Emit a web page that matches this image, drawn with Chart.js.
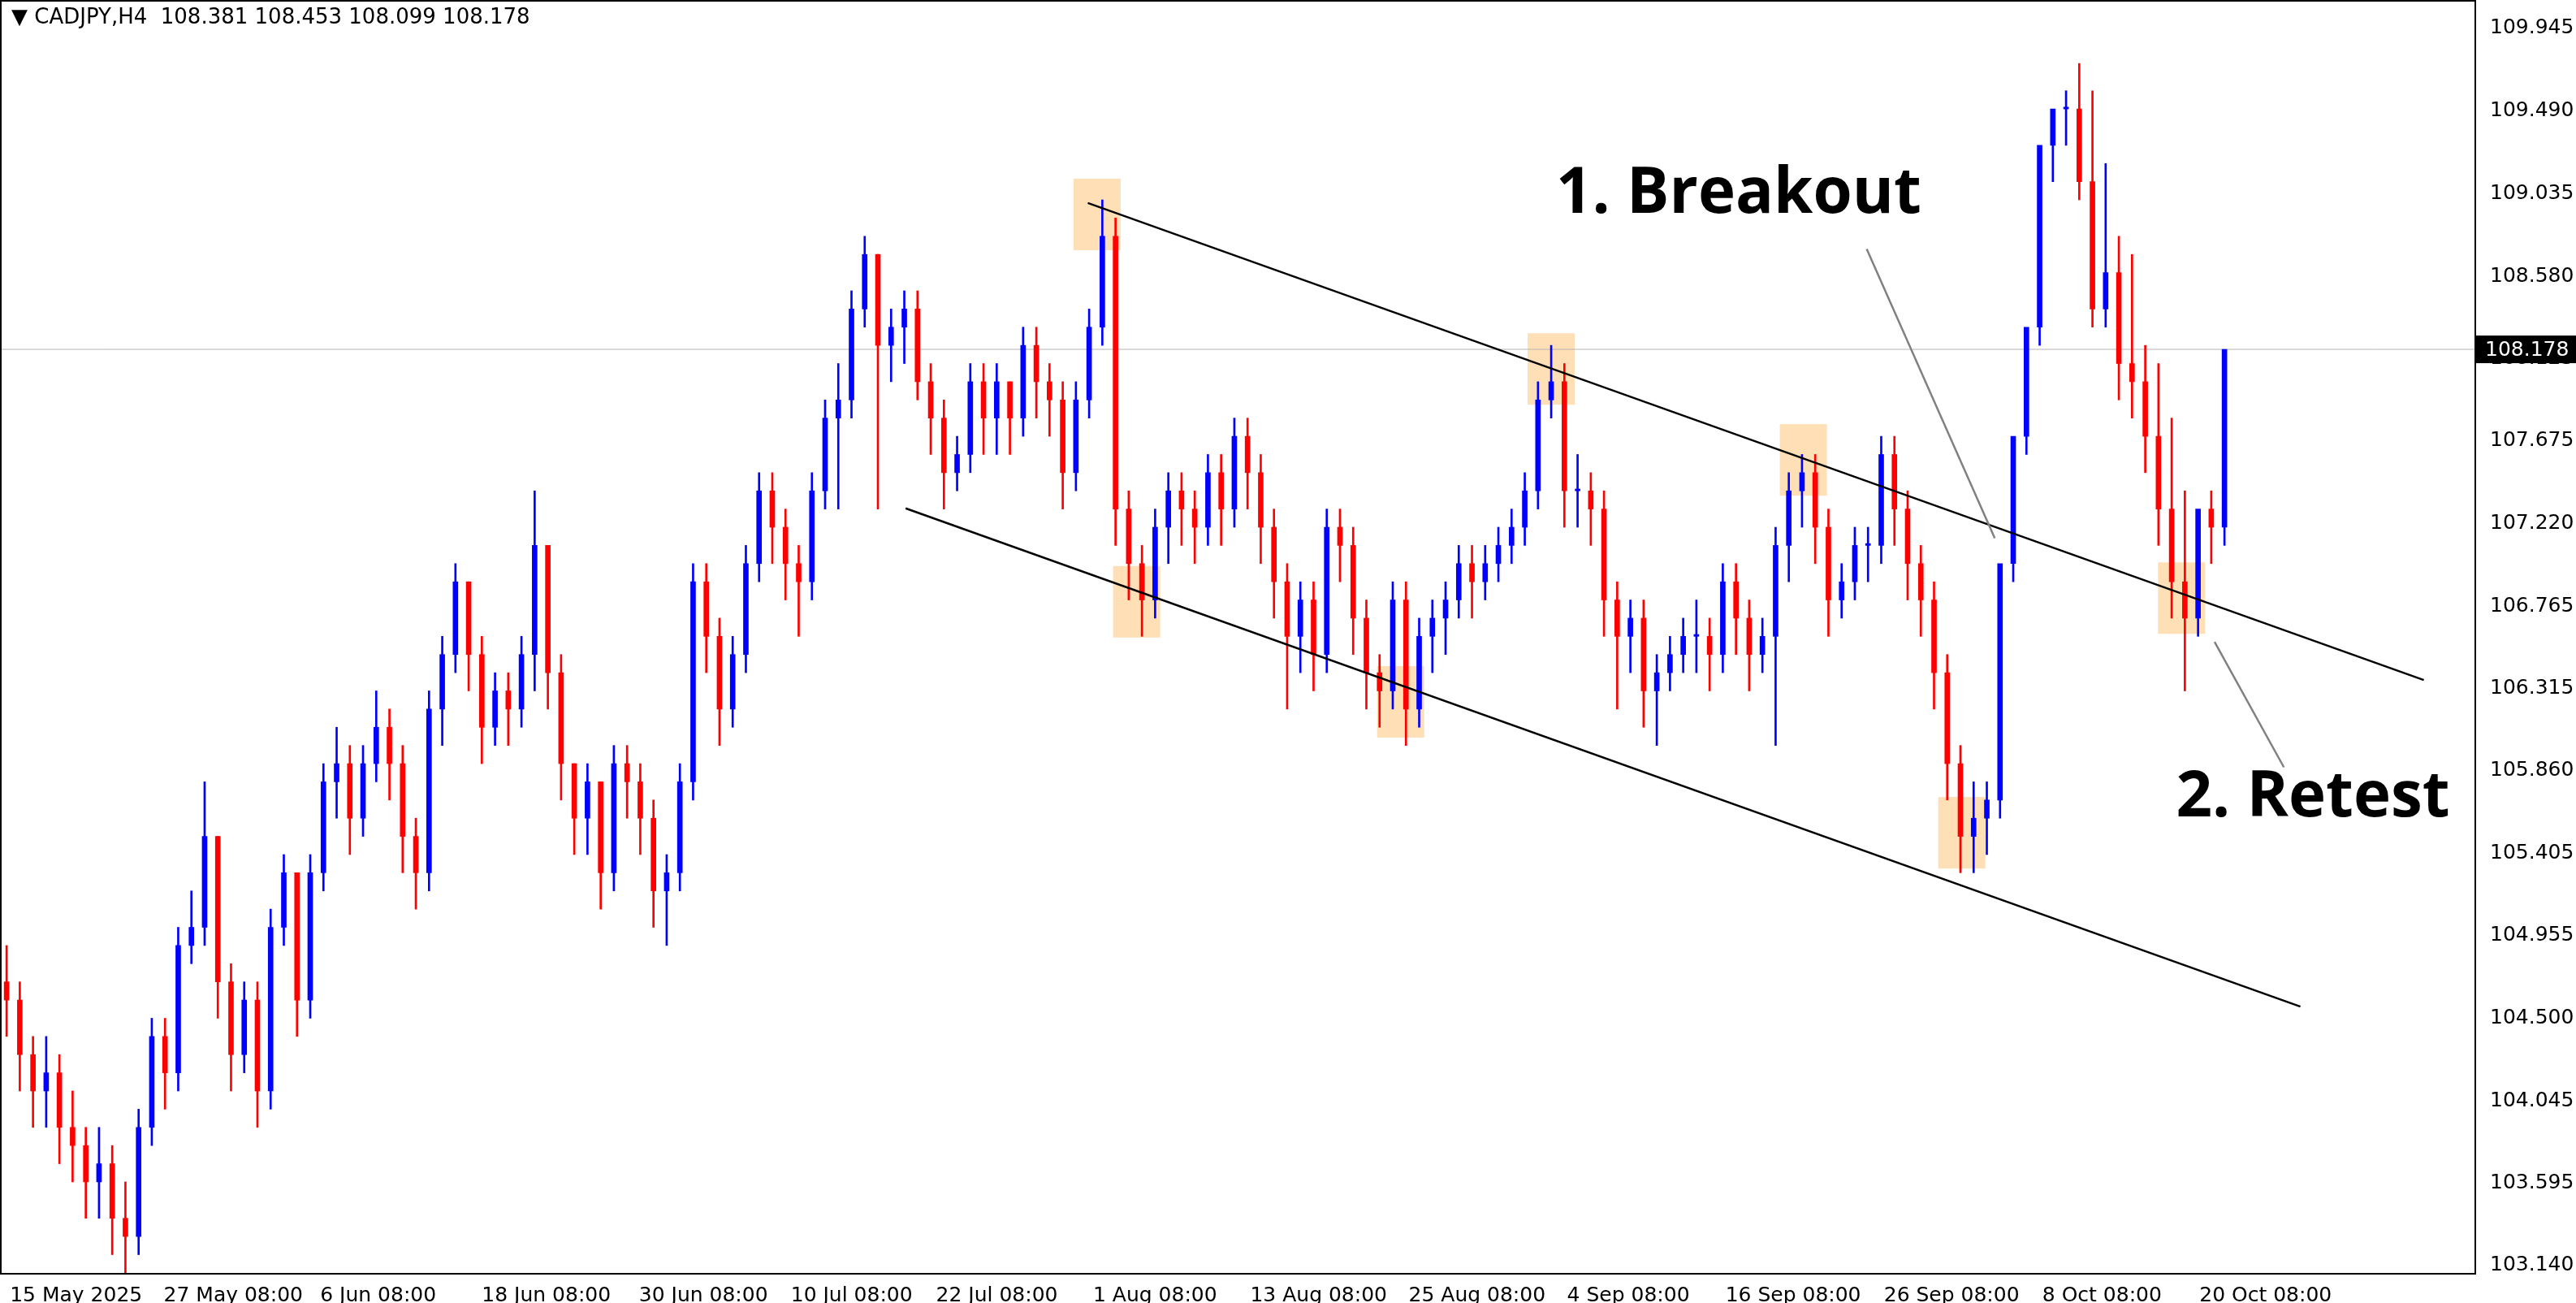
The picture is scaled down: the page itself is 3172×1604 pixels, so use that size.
<!DOCTYPE html>
<html><head><meta charset="utf-8">
<script src="https://cdn.jsdelivr.net/npm/chart.js@4"></script>
<style>html,body{margin:0;padding:0;background:#fff}#wrap{width:3172px;height:1604px}</style>
</head><body><div id="wrap"><canvas id="c" width="3172" height="1604"></canvas></div>
<script>
const closes=[104.6,104.3,104.1,104.2,103.9,103.8,103.6,103.7,103.4,103.3,103.9,104.4,104.2,104.9,105.0,105.5,104.7,104.3,104.6,104.1,105.0,105.3,104.6,105.3,105.8,105.9,105.6,105.9,106.1,105.9,105.5,105.3,106.2,106.5,106.9,106.5,106.1,106.3,106.2,106.5,107.1,106.4,105.9,105.6,105.8,105.3,105.9,105.8,105.6,105.2,105.3,105.8,106.9,106.6,106.2,106.5,107.0,107.4,107.2,107.0,106.9,107.4,107.8,107.9,108.4,108.7,108.2,108.3,108.4,108.0,107.8,107.5,107.6,108.0,107.8,108.0,107.8,108.2,108.0,107.9,107.5,107.9,108.3,108.8,107.3,107.0,106.8,107.2,107.4,107.3,107.2,107.5,107.3,107.7,107.5,107.2,106.9,106.6,106.8,106.5,107.2,107.1,106.7,106.4,106.3,106.8,106.2,106.6,106.7,106.8,107.0,106.9,107.0,107.1,107.2,107.4,107.9,108.0,107.4,107.4,107.3,106.8,106.6,106.7,106.3,106.4,106.5,106.6,106.6,106.5,106.9,106.7,106.5,106.6,107.1,107.4,107.5,107.2,106.8,106.9,107.1,107.1,107.6,107.3,107.0,106.8,106.4,105.9,105.5,105.6,105.7,107.0,107.7,108.3,109.3,109.5,109.5,109.1,108.4,108.6,108.1,108.0,107.7,107.3,106.9,106.7,107.3,107.2,108.178];
const highs=[104.9,104.7,104.4,104.4,104.3,104.1,103.9,103.9,103.8,103.6,104.0,104.5,104.5,105.0,105.2,105.8,105.5,104.8,104.7,104.7,105.1,105.4,105.3,105.4,105.9,106.1,106.0,106.0,106.3,106.2,106.0,105.6,106.3,106.6,107.0,106.9,106.6,106.4,106.4,106.6,107.4,107.1,106.5,105.9,105.9,105.8,106.0,106.0,105.9,105.7,105.4,105.9,107.0,107.0,106.7,106.6,107.1,107.5,107.5,107.3,107.1,107.5,107.9,108.1,108.5,108.8,108.7,108.4,108.5,108.5,108.1,107.9,107.7,108.1,108.1,108.1,108.0,108.3,108.3,108.1,108.0,108.0,108.4,109.0,108.9,107.4,107.1,107.3,107.5,107.5,107.4,107.6,107.6,107.8,107.8,107.6,107.3,107.0,106.9,106.9,107.3,107.3,107.2,106.8,106.5,106.9,106.9,106.7,106.8,106.9,107.1,107.1,107.1,107.2,107.3,107.5,108.0,108.2,108.1,107.6,107.5,107.4,106.9,106.8,106.8,106.5,106.6,106.7,106.8,106.7,107.0,107.0,106.8,106.7,107.2,107.5,107.6,107.6,107.3,107.0,107.2,107.2,107.7,107.7,107.4,107.1,106.9,106.5,106.0,105.8,105.8,105.8,107.1,107.8,108.4,109.4,109.6,109.75,109.6,109.2,108.8,108.7,108.2,108.1,107.8,107.4,107.0,107.4,107.4,108.55];
const lows=[104.4,104.1,103.9,103.9,103.7,103.6,103.4,103.4,103.2,103.0,103.2,103.8,104.0,104.1,104.8,104.9,104.5,104.1,104.2,103.9,104.0,104.9,104.4,104.5,105.2,105.6,105.4,105.5,105.8,105.7,105.3,105.1,105.2,106.0,106.4,106.3,105.9,106.0,106.0,106.1,106.3,106.2,105.7,105.4,105.4,105.1,105.2,105.6,105.4,105.0,104.9,105.2,105.7,106.4,106.0,106.1,106.4,106.9,107.0,106.8,106.6,106.8,107.3,107.3,107.8,108.3,107.3,108.0,108.1,107.9,107.6,107.3,107.4,107.5,107.6,107.6,107.6,107.7,107.8,107.7,107.3,107.4,107.8,108.2,107.1,106.8,106.6,106.7,107.0,107.1,107.0,107.1,107.1,107.2,107.3,107.0,106.7,106.2,106.4,106.3,106.4,106.9,106.5,106.2,106.1,106.2,106.0,106.1,106.4,106.5,106.7,106.7,106.8,106.9,107.0,107.1,107.3,107.8,107.2,107.2,107.1,106.6,106.2,106.4,106.1,106.0,106.3,106.4,106.4,106.3,106.4,106.5,106.3,106.4,106.0,106.9,107.2,107.0,106.6,106.7,106.8,106.9,107.0,107.1,106.8,106.6,106.2,105.7,105.3,105.3,105.4,105.6,106.9,107.6,108.2,109.1,109.3,109.0,108.3,108.3,107.9,107.8,107.5,107.1,106.7,106.3,106.6,107.0,107.1];
const firstOpen=104.7;
const dateLabels=["15 May 2025","27 May 08:00","6 Jun 08:00","18 Jun 08:00","30 Jun 08:00","10 Jul 08:00","22 Jul 08:00","1 Aug 08:00","13 Aug 08:00","25 Aug 08:00","4 Sep 08:00","16 Sep 08:00","26 Sep 08:00","8 Oct 08:00","20 Oct 08:00"];
const dateIdx=[0.25,11.9,23.75,36,47.9,59.4,70.4,82.3,94.2,106.2,118.2,130.2,142.2,154.2,166.1];
const priceTicks=[109.945,109.490,109.035,108.580,108.125,107.675,107.220,106.765,106.315,105.860,105.405,104.955,104.500,104.045,103.595,103.140];
const lastPrice=108.178;
const upperLine=[[81.9,108.983],[183.1,106.36]];
const lowerLine=[[68.1,107.304],[173.75,104.564]];
const boxes=[[82.6,108.92],[85.6,106.79],[105.6,106.24],[117,108.07],[136.1,107.57],[148.1,105.52],[164.75,106.81]];
const labels=[["1. Breakout",131.2,109.03],["2. Retest",174.7,105.71]];
const arrows=[[[140.9,108.73],[150.6,107.14]],[[167.25,106.57],[172.5,105.88]]];

const opens=closes.map((c,i)=>i===0?firstOpen:closes[i-1]);
const col=closes.map((c,i)=>c>=opens[i]?'#0000ff':'#ff0000');
const wick=closes.map((c,i)=>({x:i,y:[lows[i],highs[i]]}));
const body=closes.map((c,i)=>({x:i,y:[Math.min(opens[i],c),Math.max(opens[i],c)===Math.min(opens[i],c)?c+0.01:Math.max(opens[i],c)]}));

const deco={id:'deco',
 beforeDatasetsDraw(ch){const {ctx,scales:{x,y},chartArea:a}=ch;ctx.save();
  ctx.fillStyle='rgba(255,196,120,0.55)';
  boxes.forEach(b=>{const cx=x.getPixelForValue(b[0]),cy=y.getPixelForValue(b[1]);ctx.fillRect(cx-29,cy-44,58,88);});
  ctx.strokeStyle='#b4b4b4';ctx.lineWidth=1;const py=y.getPixelForValue(lastPrice);
  ctx.beginPath();ctx.moveTo(a.left,py);ctx.lineTo(a.right,py);ctx.stroke();ctx.restore();},
 afterDatasetsDraw(ch){const {ctx,scales:{x,y},chartArea:a}=ch;ctx.save();
  ctx.strokeStyle='#000';ctx.lineWidth=2.5;
  [upperLine,lowerLine].forEach(l=>{ctx.beginPath();ctx.moveTo(x.getPixelForValue(l[0][0]),y.getPixelForValue(l[0][1]));ctx.lineTo(x.getPixelForValue(l[1][0]),y.getPixelForValue(l[1][1]));ctx.stroke();});
  ctx.strokeStyle='#808080';ctx.lineWidth=2.5;
  arrows.forEach(l=>{ctx.beginPath();ctx.moveTo(x.getPixelForValue(l[0][0]),y.getPixelForValue(l[0][1]));ctx.lineTo(x.getPixelForValue(l[1][0]),y.getPixelForValue(l[1][1]));ctx.stroke();});
  ctx.fillStyle='#000';ctx.font='bold 78px "Open Sans", sans-serif';ctx.textAlign='center';ctx.textBaseline='middle';
  labels.forEach(t=>ctx.fillText(t[0],x.getPixelForValue(t[1]),y.getPixelForValue(t[2])));
  ctx.font='26px "DejaVu Sans", sans-serif';ctx.textAlign='left';ctx.textBaseline='middle';
  ctx.fillText('\u25BC CADJPY,H4  108.381 108.453 108.099 108.178',a.left+14,a.top+22);
  ctx.strokeStyle='#000';ctx.lineWidth=2;ctx.strokeRect(a.left+1,a.top+1,a.right-a.left-1,a.bottom-a.top-1);
  const py=y.getPixelForValue(lastPrice);ctx.fillStyle='#000';ctx.fillRect(a.right,py-17,ch.width-a.right,34);
  ctx.fillStyle='#fff';ctx.font='25px "DejaVu Sans", sans-serif';ctx.fillText(lastPrice.toFixed(3),a.right+12,py+1);
  ctx.restore();}};

new Chart(document.getElementById('c'),{type:'bar',
 data:{datasets:[
  {data:wick,backgroundColor:col,barThickness:2,grouped:false,order:2},
  {data:body,backgroundColor:col,barThickness:6,grouped:false,order:1}]},
 options:{responsive:false,animation:false,devicePixelRatio:1,
  layout:{padding:0},
  plugins:{legend:{display:false},tooltip:{enabled:false}},
  scales:{
   x:{type:'linear',min:-0.5,max:187,offset:false,grid:{display:false},border:{display:false},
    afterBuildTicks(s){s.ticks=dateIdx.map(v=>({value:v}));},
    afterFit(s){s.height=36;s.paddingLeft=0;s.paddingRight=0;},
    ticks:{autoSkip:false,maxRotation:0,align:'start',color:'#000',font:{size:25,family:'"DejaVu Sans"'},padding:4,
     callback:(v,i)=>dateLabels[i]}},
   y:{position:'right',min:103.095,max:110.099,grid:{display:false},border:{display:false},
    afterBuildTicks(s){s.ticks=priceTicks.map(v=>({value:v}));},
    afterFit(s){s.width=124;s.paddingTop=0;s.paddingBottom=0;},
    ticks:{autoSkip:false,color:'#000',font:{size:25,family:'"DejaVu Sans"'},padding:10,callback:v=>v.toFixed(3)}}}},
 plugins:[deco]});
</script></body></html>
